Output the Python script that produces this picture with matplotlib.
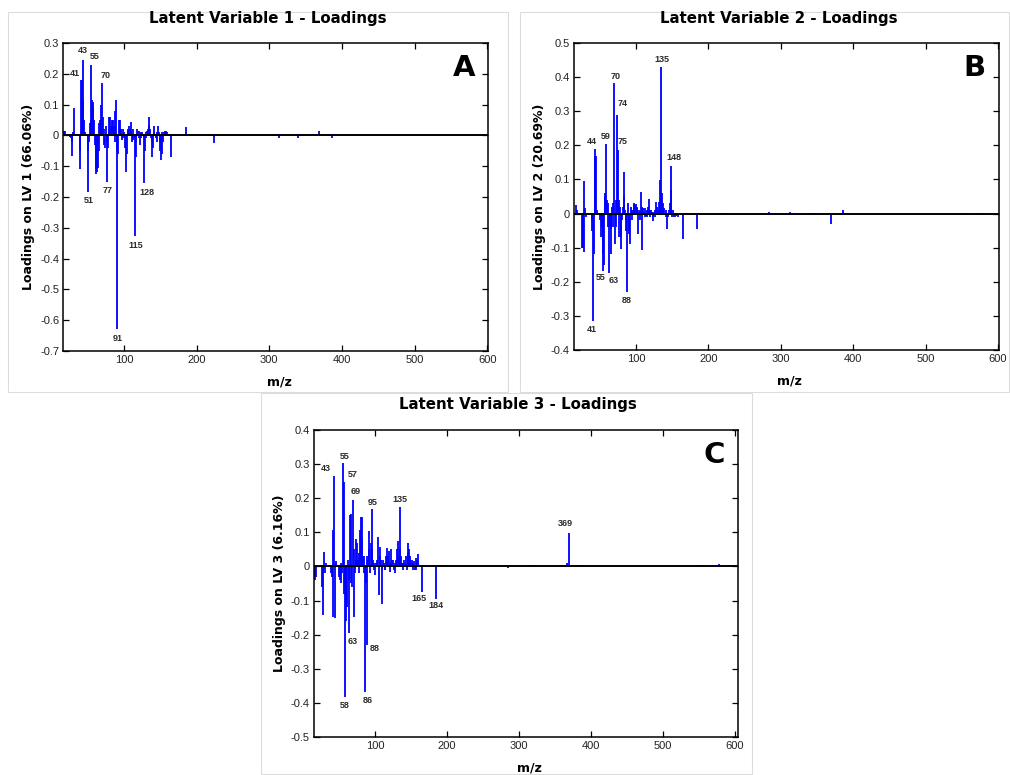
import matplotlib
matplotlib.use("Agg")
import matplotlib.pyplot as plt
from matplotlib.ticker import MultipleLocator, FuncFormatter
from matplotlib.patches import Rectangle

plt.rcParams['axes.unicode_minus'] = False

# ---- LV1 loadings (m/z, loading) ----
mz_a = [17, 18, 19, 26, 27, 28, 29, 30, 31, 32, 39, 40, 41, 42, 43, 44, 45, 46,
        50, 51, 52, 53, 54, 55, 56, 57, 58, 59, 60, 61, 62, 63, 64, 65, 66, 67, 68,
        69, 70, 71, 72, 73, 74, 75, 76, 77, 78, 79, 80, 81, 82, 83, 84, 85, 86, 87,
        88, 89, 90, 91, 92, 93, 94, 95, 96, 97, 98, 99, 100, 101, 102, 103, 104,
        105, 106, 107, 108, 109, 110, 111, 112, 113, 114, 115, 116, 117, 118, 119,
        120, 121, 122, 123, 124, 125, 126, 127, 128, 129, 130, 131, 132, 133, 134,
        135, 136, 137, 138, 139, 140, 141, 142, 143, 144, 145, 146, 147, 148, 149,
        150, 151, 152, 153, 154, 155, 156, 157, 158, 159, 165, 185, 224, 313, 340,
        369, 386]
lv1 = [0.015, 0.01, 0.015, -0.005, -0.01, -0.066, -0.02, 0.01, 0.088, 0.005,
       -0.11, -0.05, 0.18, 0.18, 0.245, 0.115, 0.05, 0.01,
       -0.05, -0.185, -0.02, 0.04, 0.05, 0.23, 0.115, 0.11, 0.09, 0.05, -0.03,
       -0.125, -0.11, -0.12, -0.105, -0.05, 0.04, 0.05, 0.05,
       0.10, 0.17, 0.06, 0.02, -0.03, -0.04, 0.03, -0.02, -0.15, -0.04, 0.06, 0.02,
       0.06, 0.03, 0.05, 0.03, 0.05, 0.03, 0.08,
       -0.02, 0.115, -0.05, -0.63, -0.06, 0.05, 0.02, 0.05, 0.02, -0.015, 0.02,
       -0.01, 0.01, -0.01, -0.04, -0.12, -0.06,
       0.02, 0.015, 0.03, 0.02, 0.045, 0.01, -0.02, -0.015, 0.02, -0.01, -0.325,
       -0.02, -0.07, 0.02, 0.015,
       0.015, -0.01, -0.03, 0.01, -0.01, 0.01, 0.005, -0.01, -0.155, -0.05, 0.01,
       -0.01, 0.015, 0.02, 0.035,
       0.06, 0.02, -0.01, -0.02, -0.07, -0.04, 0.01, 0.03, 0.005, -0.01, -0.02,
       0.01, 0.03, 0.01, -0.02,
       -0.05, -0.08, -0.06, 0.01, -0.02, 0.01, 0.015, 0.01, 0.015, 0.01, -0.07,
       0.028, -0.025, -0.01, -0.007,
       0.013, -0.01]

# ---- LV2 loadings ----
mz_b = [17, 18, 26, 27, 28, 29, 30, 31, 39, 40, 41, 42, 43, 44, 45, 46, 50, 52,
        53, 54, 55, 56, 57, 58, 59, 60, 61, 62, 63, 64, 65, 66, 67, 68, 69, 70, 71,
        72, 73, 74, 75, 76, 77, 78, 79, 80, 81, 82, 83, 84, 85, 86, 87, 88, 89, 90,
        91, 92, 93, 94, 95, 96, 97, 98, 99, 100, 101, 102, 103, 104, 105, 106, 107,
        108, 109, 110, 111, 112, 113, 114, 115, 116, 117, 118, 119, 120, 121, 122,
        123, 124, 125, 126, 127, 128, 129, 130, 131, 132, 133, 134, 135, 136, 137,
        138, 139, 140, 141, 142, 143, 144, 145, 146, 147, 148, 149, 150, 151, 152,
        154, 156, 158, 165, 185, 224, 284, 313, 340, 366, 369, 386, 551, 577]
lv2 = [0.025, 0.01, -0.1, -0.1, 0.095, -0.112, 0.015, -0.01, -0.02, -0.05,
       -0.315, -0.12, 0.17, 0.188, 0.17, 0.01, -0.02, -0.07,
       -0.04, -0.12, -0.168, -0.15, 0.06, 0.05, 0.203, 0.04, 0.03, -0.04, -0.175,
       -0.04, -0.045, -0.12, 0.02, -0.04, 0.03, 0.382, -0.09,
       -0.04, 0.04, 0.289, 0.186, 0.04, -0.07, 0.02, -0.07, -0.104, -0.02, 0.02,
       0.123, 0.05, 0.01, -0.02, -0.05, -0.229, 0.03, -0.06,
       -0.05, -0.09, 0.02, -0.02, 0.01, 0.01, 0.025, 0.03, 0.025, 0.028, 0.02,
       0.015, -0.06, 0.01, 0.005, -0.02, 0.064,
       -0.107, 0.02, 0.015, 0.005, -0.01, 0.015, -0.008, 0.01, -0.01, 0.02, 0.042,
       0.01, -0.01, 0.01, 0.005,
       -0.01, -0.021, 0.005, 0.01, -0.01, 0.035, 0.02, 0.01, 0.01, 0.035, 0.098,
       0.06, 0.429, 0.06, 0.03,
       0.01, 0.015, -0.005, -0.01, 0.01, -0.046, -0.01, -0.005, 0.01, 0.03, 0.139,
       0.07, -0.01, 0.01, -0.01,
       -0.01, -0.008, -0.01, -0.076, -0.044, 0.003, 0.005, 0.004, 0.002, -0.005,
       -0.03, 0.01, -0.004, -0.004]

# ---- LV3 loadings ----
mz_c = [16, 17, 18, 26, 27, 28, 29, 30, 31, 39, 40, 41, 42, 43, 44, 45, 46, 50,
        51, 52, 53, 54, 55, 56, 57, 58, 59, 60, 61, 62, 63, 64, 65, 66, 67, 68, 69,
        70, 71, 72, 73, 74, 75, 76, 77, 78, 79, 80, 81, 82, 83, 84, 85, 86, 87, 88,
        89, 90, 91, 92, 93, 94, 95, 96, 97, 98, 99, 100, 101, 102, 103, 104, 105,
        106, 107, 108, 109, 110, 111, 112, 113, 114, 115, 116, 117, 118, 119, 120,
        121, 122, 123, 124, 125, 126, 127, 128, 129, 130, 131, 132, 133, 134, 135,
        136, 137, 138, 139, 140, 141, 142, 143, 144, 145, 146, 147, 148, 149, 150,
        151, 152, 153, 154, 155, 156, 157, 158, 159, 160, 165, 184, 200, 224, 284,
        313, 340, 367, 369, 386, 478, 551, 577]
lv3 = [-0.02, -0.04, -0.03, -0.06, -0.02, -0.142, 0.043, -0.02, 0.01, -0.02,
       -0.03, 0.107, -0.147, 0.266, -0.15, 0.015, 0.01, -0.03,
       -0.04, -0.05, 0.01, -0.02, 0.302, -0.08, 0.248, -0.382, -0.16, -0.1, -0.12,
       0.02, -0.196, -0.04, 0.15, 0.154, -0.05, -0.06, 0.195,
       0.05, -0.148, -0.02, 0.02, 0.08, 0.07, 0.02, -0.02, 0.04, 0.107, 0.146,
       0.146, 0.08, 0.03, -0.02, 0.03, -0.367, -0.05, -0.23,
       0.03, 0.02, 0.105, 0.05, -0.02, 0.07, 0.167, 0.05, 0.02, -0.01, 0.01,
       -0.025, 0.01, 0.02, 0.01, 0.087, -0.085,
       0.03, 0.058, 0.02, -0.01, -0.11, 0.02, 0.01, -0.01, -0.01, 0.03, 0.055,
       0.02, 0.03, 0.045, 0.01,
       -0.015, 0.05, 0.02, 0.01, 0.02, -0.01, 0.01, -0.02, 0.02, 0.05, 0.03,
       0.075, 0.02, 0.05, 0.173,
       0.03, 0.01, -0.01, 0.01, 0.02, 0.005, 0.01, 0.03, -0.01, 0.04, 0.07, 0.05,
       0.02, 0.03, 0.01,
       0.02, -0.01, 0.01, 0.015, -0.01, 0.025, -0.01, 0.02, 0.01, 0.037, -0.074,
       -0.094, 0.003, 0.002, -0.004,
       0.005, 0.001, 0.01, 0.097, 0.005, 0.001, 0.003, 0.006]

# labelled peaks: (m/z, dx px, dy px away from the bar tip)
peaks_a = [(41, -6, 6), (43, 0, 9), (55, 3, 8), (70, 3, 8), (51, 0, 8),
           (77, 0, 9), (91, 0, 9), (115, 1, 10), (128, 3, 9)]
peaks_b = [(44, -4, 8), (59, -1, 8), (70, 1, 7), (74, 6, 11), (75, 5, 9),
           (135, 1, 8), (148, 3, 9), (55, -3, 7), (63, 5, 7), (88, 0, 9), (41, -1, 8)]
peaks_c = [(43, -8, 7), (55, 2, 7), (57, 8, 7), (69, 3, 8), (95, 1, 7), (135, 0, 8),
           (369, -3, 10), (165, -3, 7), (184, 0, 7), (63, 4, 8), (88, 8, 4),
           (58, 0, 9), (86, 3, 9)]

panels = [
    dict(mz=mz_a, val=lv1, peaks=peaks_a, ylim=(-0.7, 0.3), xlim=(16.5, 601),
         letter='A', title='Latent Variable 1 - Loadings',
         ylabel='Loadings on LV 1 (66.06%)',
         rect=[63.3, 43, 488, 351], title_xy=(268, 19)),
    dict(mz=mz_b, val=lv2, peaks=peaks_b, ylim=(-0.4, 0.5), xlim=(14.5, 601.5),
         letter='B', title='Latent Variable 2 - Loadings',
         ylabel='Loadings on LV 2 (20.69%)',
         rect=[574, 43, 999, 350], title_xy=(779, 19)),
    dict(mz=mz_c, val=lv3, peaks=peaks_c, ylim=(-0.5, 0.4), xlim=(15, 604),
         letter='C', title='Latent Variable 3 - Loadings',
         ylabel='Loadings on LV 3 (6.16%)',
         rect=[314, 430, 738, 737], title_xy=(518, 405)),
]

W, H = 1010, 775
fig = plt.figure(figsize=(W / 100, H / 100), dpi=100)

# faint frames around the three panel images
for x0, y0, x1, y1 in [(8, 12, 508, 392), (520, 12, 1009, 392), (261, 393, 752, 774)]:
    fig.add_artist(Rectangle((x0 / W, 1 - y1 / H), (x1 - x0) / W, (y1 - y0) / H,
                             transform=fig.transFigure, fill=False,
                             ec='#dcdcdc', lw=0.8))

fmt = FuncFormatter(lambda v, p: '0' if abs(v) < 1e-9 else f'{v:g}')
px2pt = 0.72

for p in panels:
    l, t, r, b = p['rect']
    ax = fig.add_axes([l / W, 1 - b / H, (r - l) / W, (b - t) / H])
    ax.vlines(p['mz'], 0, p['val'], color='#0000ff', lw=1.3, zorder=2)
    ax.axhline(0, color='black', lw=1.4, zorder=3)
    ax.set_xlim(*p['xlim'])
    ax.set_ylim(*p['ylim'])
    ax.xaxis.set_major_locator(MultipleLocator(100))
    ax.yaxis.set_major_locator(MultipleLocator(0.1))
    ax.yaxis.set_major_formatter(fmt)
    ax.tick_params(direction='in', top=True, right=True, length=4, width=0.9,
                   labelsize=8, pad=3)
    for lab in ax.get_xticklabels() + ax.get_yticklabels():
        lab.set_fontfamily('Liberation Sans')
        lab.set_color('#222222')
    for s in ax.spines.values():
        s.set_linewidth(1.1)
    ax.set_xlabel('m/z', fontsize=9, fontweight='bold', family='DejaVu Sans')
    ax.xaxis.set_label_coords(0.508, -0.079)
    ax.set_ylabel(p['ylabel'], fontsize=9, fontweight='bold', family='DejaVu Sans')
    ax.yaxis.set_label_coords(-0.066, 0.5)
    ax.text(0.943, 0.919, p['letter'], transform=ax.transAxes, fontsize=21,
            fontweight='bold', family='DejaVu Sans', ha='center', va='center')
    fig.text(p['title_xy'][0] / W, 1 - p['title_xy'][1] / H, p['title'],
             fontsize=10.8, fontweight='bold', family='DejaVu Sans',
             ha='center', va='center')

    lookup = dict(zip(p['mz'], p['val']))
    for m, dx, dy in p['peaks']:
        v = lookup[m]
        sgn = 1 if v > 0 else -1
        ax.annotate(str(m), (m, v), xytext=(dx * px2pt, sgn * dy * px2pt),
                    textcoords='offset points', ha='center', va='center',
                    fontsize=6.5, family='Liberation Sans', fontweight='bold',
                    color='#2a2a2a')

fig.savefig('out.png', dpi=100)
